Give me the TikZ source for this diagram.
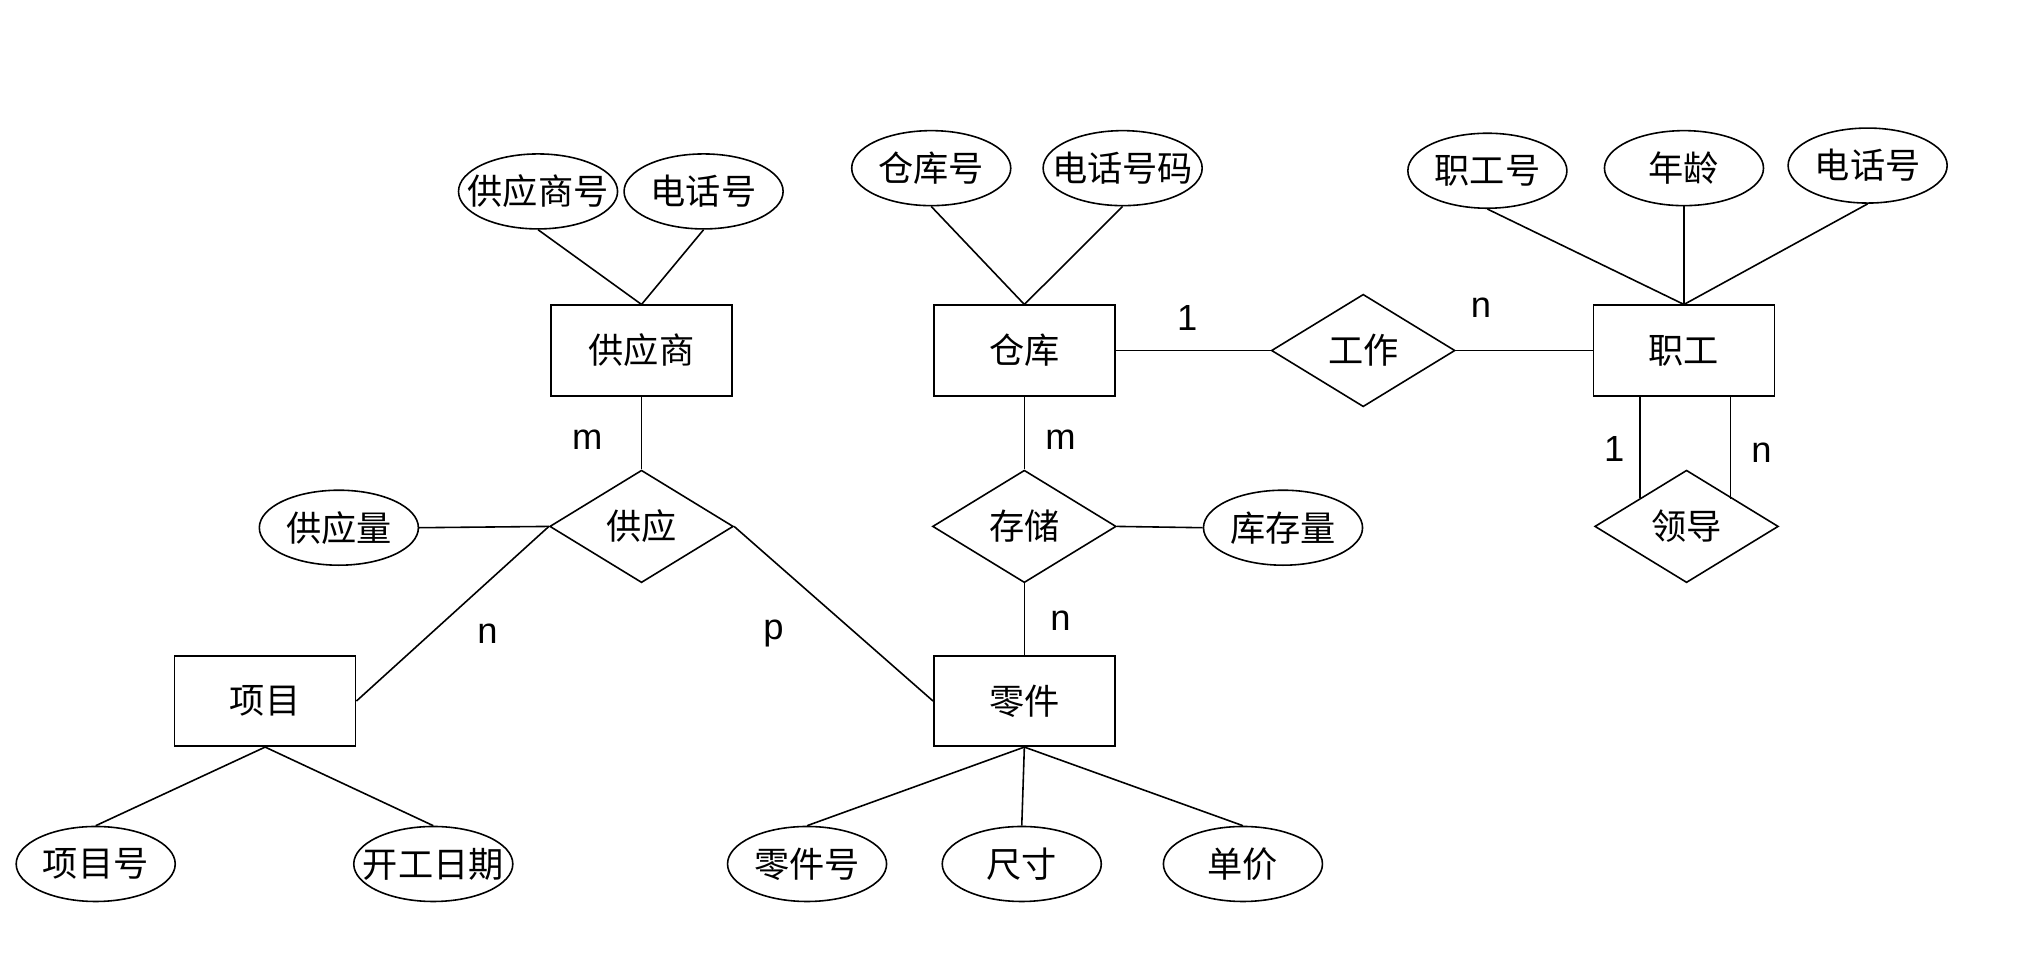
\documentclass[tikz,border=0pt]{standalone}
\usepackage{fontspec}
\setmainfont{Noto Sans CJK SC}
\newfontfamily\labfont{Liberation Sans}
\usetikzlibrary{shapes.geometric}
\newcommand\attrtxt[1]{\makebox[1.2cm]{#1}}
\begin{document}
\begin{tikzpicture}[x=0.02cm,y=-0.02cm,line width=0.7pt,
 every node/.style={font=\fontsize{15.5}{18}\selectfont},
 attr/.style={draw,ellipse,minimum width=2.46cm,minimum height=1.16cm,inner sep=0},
 ent/.style={draw,rectangle,minimum width=2.8cm,minimum height=1.4cm},
 rel/.style={draw,diamond,minimum width=2.84cm,minimum height=1.74cm,inner sep=0},
 lab/.style={font=\fontsize{16}{18}\selectfont\labfont}]
\useasboundingbox (0,0) rectangle (1568,748);
% entities
\node[ent] (gys) at (496,271) {供应商};
\node[ent] (ck) at (792,271) {仓库};
\node[ent] (zg) at (1302,271) {职工};
\node[ent] (xm) at (205,542) {项目};
\node[ent] (lj) at (792,542) {零件};
% relations
\node[rel] (gy) at (496,407) {供应};
\node[rel] (cc) at (792,407) {存储};
\node[rel] (gz) at (1054,271) {工作};
\node[rel] (ld) at (1304,407) {领导};
% attributes
\node[attr] (a1) at (416,148) {\attrtxt{供应商号}};
\node[attr] (a2) at (544,148) {\attrtxt{电话号}};
\node[attr] (a3) at (720,130) {\attrtxt{仓库号}};
\node[attr] (a4) at (868,130) {\attrtxt{电话号码}};
\node[attr] (a5) at (1150,132) {\attrtxt{职工号}};
\node[attr] (a6) at (1302,130) {\attrtxt{年龄}};
\node[attr] (a7) at (1444,128) {\attrtxt{电话号}};
\node[attr] (a8) at (262,408) {\attrtxt{供应量}};
\node[attr] (a9) at (992,408) {\attrtxt{库存量}};
\node[attr] (a10) at (74,668) {\attrtxt{项目号}};
\node[attr] (a11) at (335,668) {\attrtxt{开工日期}};
\node[attr] (a12) at (624,668) {\attrtxt{零件号}};
\node[attr] (a13) at (790,668) {\attrtxt{尺寸}};
\node[attr] (a14) at (961,668) {\attrtxt{单价}};
% connectors
\draw (a1.south) -- (gys.north);
\draw (a2.south) -- (gys.north);
\draw (a3.south) -- (ck.north);
\draw (a4.south) -- (ck.north);
\draw (a5.south) -- (zg.north);
\draw (a6.south) -- (zg.north);
\draw (a7.south) -- (zg.north);
\draw (gys.south) -- (gy.north);
\draw (a8.east) -- (gy.west);
\draw (gy.west) -- (xm.east);
\draw (gy.east) -- (lj.west);
\draw (ck.south) -- (cc.north);
\draw (cc.south) -- (lj.north);
\draw (a9.west) -- (cc.east);
\draw (ck.east) -- (gz.west);
\draw (gz.east) -- (zg.west);
\coordinate (z1) at (1268,306); \coordinate (l1) at (1268,385);
\coordinate (z2) at (1338,306); \coordinate (l2) at (1338,386);
\draw (z1) -- (l1);
\draw (z2) -- (l2);
\draw (xm.south) -- (a10.north);
\draw (xm.south) -- (a11.north);
\draw (lj.south) -- (a12.north);
\draw (lj.south) -- (a13.north);
\draw (lj.south) -- (a14.north);
% labels
\node[lab] (t1) at (918,246) {1};
\node[lab] (t2) at (1145,238) {n};
\node[lab] (t3) at (454,340) {m};
\node[lab] (t4) at (377,490) {n};
\node[lab] (t5) at (598,490) {p};
\node[lab] (t6) at (820,340) {m};
\node[lab] (t7) at (820,480) {n};
\node[lab] (t8) at (1248,347) {1};
\node[lab] (t9) at (1362,350) {n};
\end{tikzpicture}
\end{document}
